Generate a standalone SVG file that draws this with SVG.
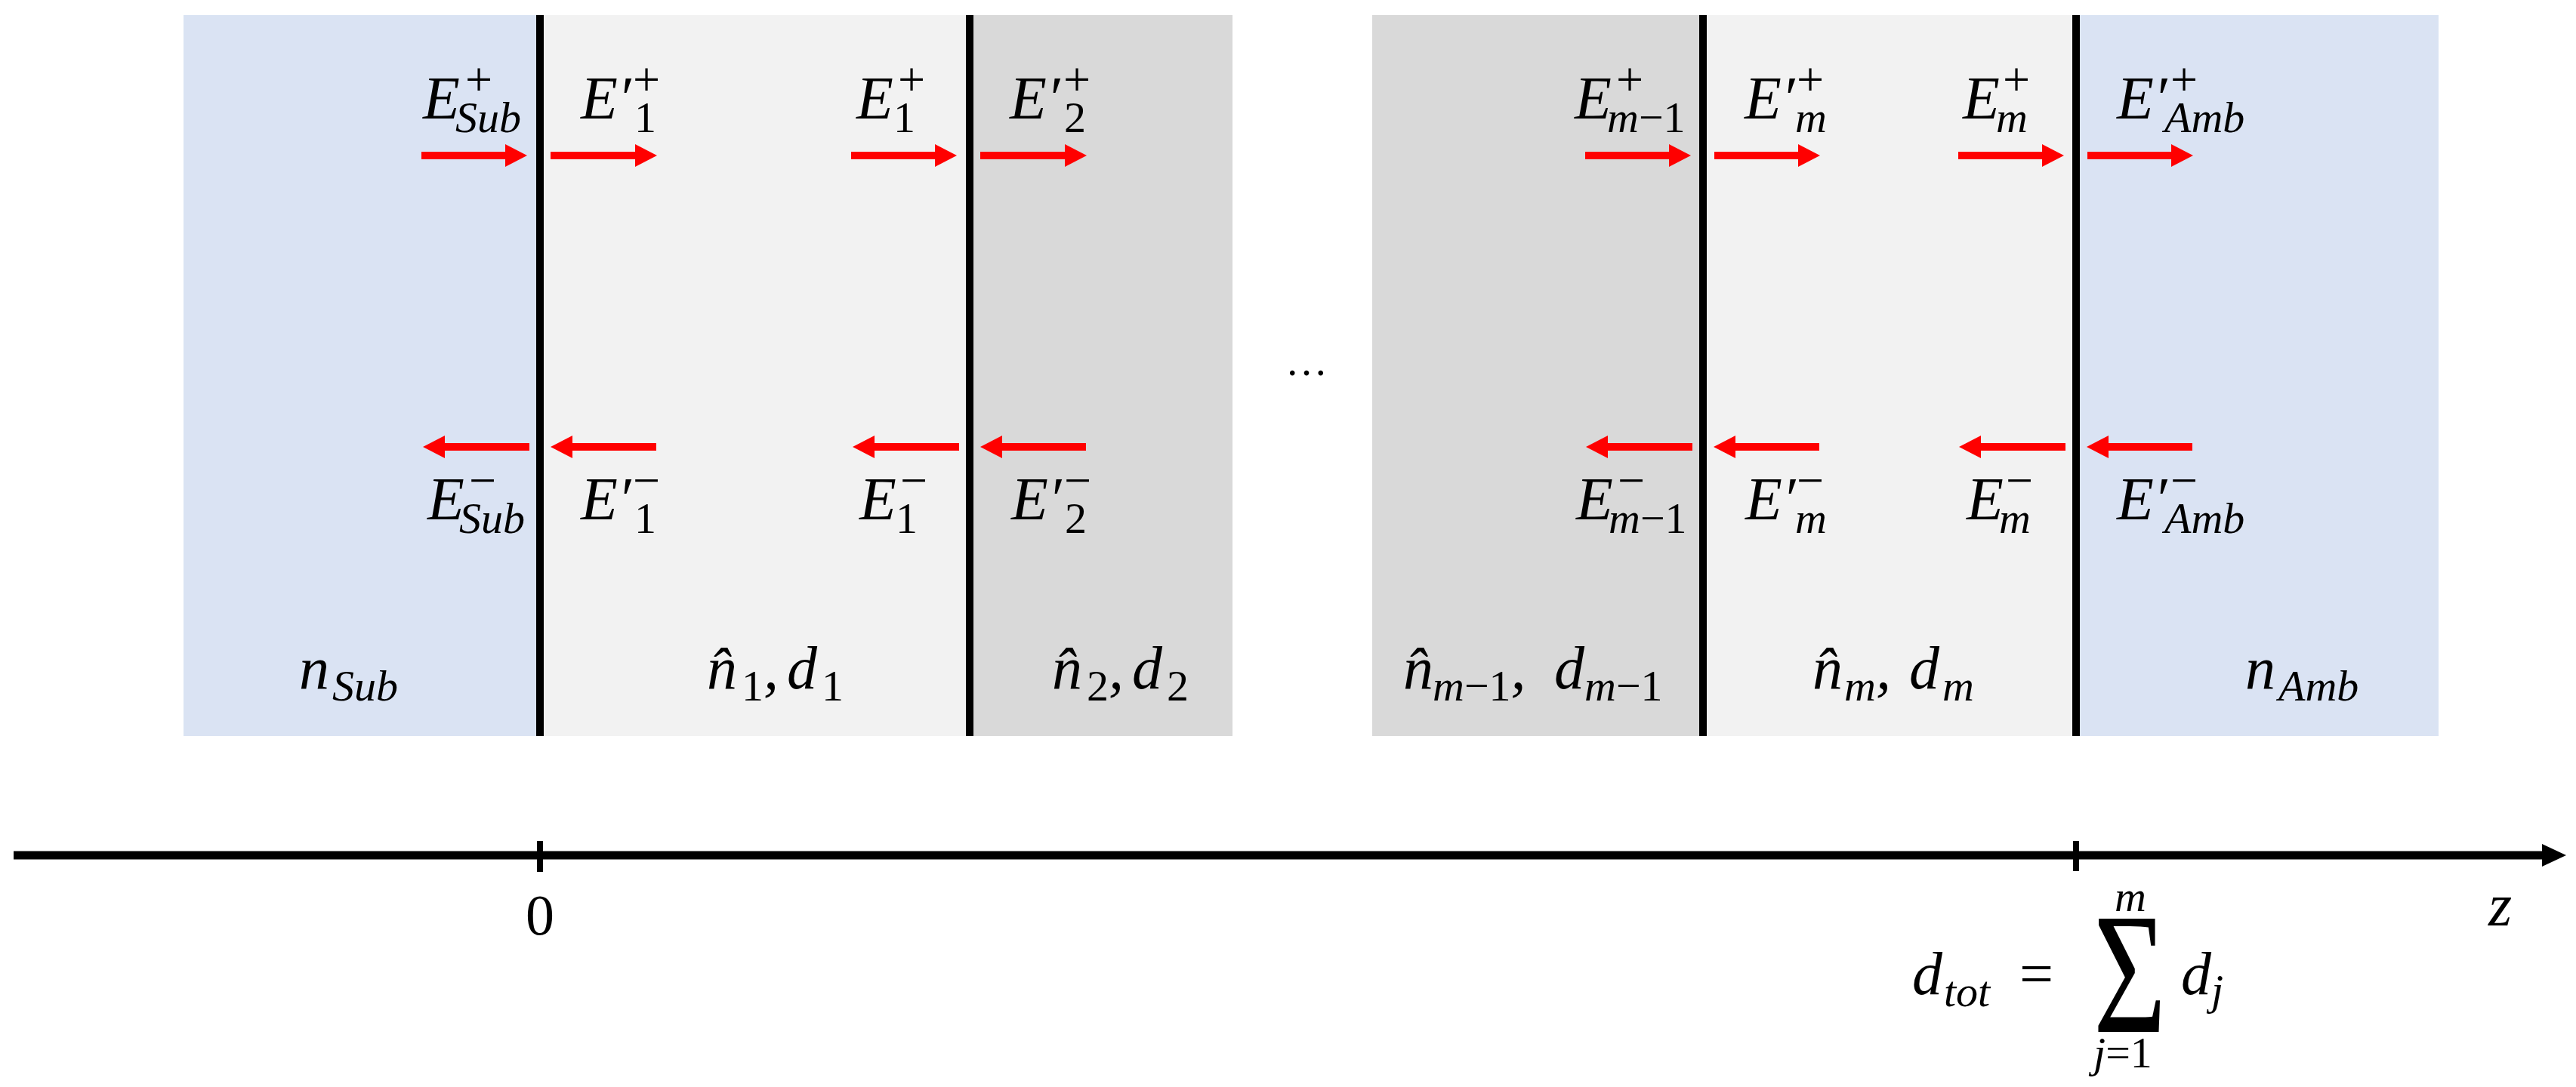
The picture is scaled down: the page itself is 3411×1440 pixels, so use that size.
<svg xmlns="http://www.w3.org/2000/svg" width="3411" height="1440" viewBox="0 0 3411 1440">
<defs>
<marker id="ah" markerUnits="userSpaceOnUse" markerWidth="30" markerHeight="30" refX="19" refY="15" orient="auto">
<path d="M0,0 L29,15 L0,30 z" fill="#FF0000"/>
</marker>
</defs>
<style>
text{font-family:"Liberation Serif","Times New Roman",serif;fill:#000}
.m{font-size:80px;font-style:italic}
.sb{font-size:58px;font-style:italic}
.sp{font-size:64px;font-style:normal}
.up{font-style:normal}
.arr{stroke:#FF0000;stroke-width:10;fill:none;marker-end:url(#ah)}
.iface{stroke:#000;stroke-width:10}
.blue{fill:#DAE3F3}
.lg{fill:#F2F2F2}
.dg{fill:#D9D9D9}
</style>
<rect width="3411" height="1440" fill="#FFFFFF"/>

<g id="substrate">
<rect class="blue" x="243" y="20" width="472" height="955"/>
<text class="m" x="396" y="912">n<tspan class="sb" x="440" y="928">Sub</tspan></text>
</g>
<g id="layer1">
<rect class="lg" x="715" y="20" width="569" height="955"/>
<text class="m" x="936" y="912">n&#x302;<tspan class="sb up" x="982" y="928">1</tspan><tspan y="912">,</tspan><tspan x="1042" y="912">d</tspan><tspan class="sb up" x="1088" y="928">1</tspan></text>
</g>
<g id="layer2">
<rect class="dg" x="1284" y="20" width="348" height="955"/>
<text class="m" x="1393" y="912">n&#x302;<tspan class="sb up" x="1439" y="928">2</tspan><tspan y="912">,</tspan><tspan x="1499" y="912">d</tspan><tspan class="sb up" x="1545" y="928">2</tspan></text>
</g>
<g id="ellipsis">
<text class="up" x="1702" y="497" font-size="56">…</text>
</g>
<g id="layer-m-1">
<rect class="dg" x="1817" y="20" width="438" height="955"/>
<text class="m" x="1858" y="912">n&#x302;<tspan class="sb" x="1897" y="928">m</tspan><tspan class="sb up">−1</tspan><tspan y="912">,</tspan><tspan x="2058" y="912">d</tspan><tspan class="sb" x="2098" y="928">m</tspan><tspan class="sb up">−1</tspan></text>
</g>
<g id="layer-m">
<rect class="lg" x="2255" y="20" width="494" height="955"/>
<text class="m" x="2400" y="912">n&#x302;<tspan class="sb" x="2442" y="928">m</tspan><tspan y="912">,</tspan><tspan x="2528" y="912">d</tspan><tspan class="sb" x="2572" y="928">m</tspan></text>
</g>
<g id="ambient">
<rect class="blue" x="2749" y="20" width="480" height="955"/>
<text class="m" x="2973" y="912">n<tspan class="sb" x="3017" y="928">Amb</tspan></text>
</g>

<g id="interfaces">
<line class="iface" x1="715" y1="20" x2="715" y2="975"/>
<line class="iface" x1="1284" y1="20" x2="1284" y2="975"/>
<line class="iface" x1="2255" y1="20" x2="2255" y2="975"/>
<line class="iface" x1="2749" y1="20" x2="2749" y2="975"/>
</g>

<g id="field-labels">
<text class="m" x="560" y="157">E<tspan class="sp" x="616" y="127">+</tspan><tspan class="sb" x="603" y="175">Sub</tspan></text>
<text class="m" x="769" y="157">E′<tspan class="sp" x="838" y="127">+</tspan><tspan class="sb up" x="840" y="175">1</tspan></text>
<text class="m" x="1134" y="157">E<tspan class="sp" x="1189" y="127">+</tspan><tspan class="sb up" x="1183" y="175">1</tspan></text>
<text class="m" x="1337" y="157">E′<tspan class="sp" x="1408" y="127">+</tspan><tspan class="sb up" x="1409" y="175">2</tspan></text>
<text class="m" x="2085" y="157">E<tspan class="sp" x="2140" y="127">+</tspan><tspan class="sb" x="2128" y="175">m</tspan><tspan class="sb up">−1</tspan></text>
<text class="m" x="2310" y="157">E′<tspan class="sp" x="2379" y="127">+</tspan><tspan class="sb" x="2377" y="175">m</tspan></text>
<text class="m" x="2599" y="157">E<tspan class="sp" x="2652" y="127">+</tspan><tspan class="sb" x="2643" y="175">m</tspan></text>
<text class="m" x="2803" y="157">E′<tspan class="sp" x="2874" y="127">+</tspan><tspan class="sb" x="2866" y="175">Amb</tspan></text>

<text class="m" x="566" y="688">E<tspan class="sp" x="621" y="658">−</tspan><tspan class="sb" x="608" y="706">Sub</tspan></text>
<text class="m" x="769" y="688">E′<tspan class="sp" x="838" y="658">−</tspan><tspan class="sb up" x="840" y="706">1</tspan></text>
<text class="m" x="1138" y="688">E<tspan class="sp" x="1192" y="658">−</tspan><tspan class="sb up" x="1186" y="706">1</tspan></text>
<text class="m" x="1339" y="688">E′<tspan class="sp" x="1409" y="658">−</tspan><tspan class="sb up" x="1410" y="706">2</tspan></text>
<text class="m" x="2087" y="688">E<tspan class="sp" x="2142" y="658">−</tspan><tspan class="sb" x="2130" y="706">m</tspan><tspan class="sb up">−1</tspan></text>
<text class="m" x="2311" y="688">E′<tspan class="sp" x="2379" y="658">−</tspan><tspan class="sb" x="2377" y="706">m</tspan></text>
<text class="m" x="2604" y="688">E<tspan class="sp" x="2656" y="658">−</tspan><tspan class="sb" x="2647" y="706">m</tspan></text>
<text class="m" x="2803" y="688">E′<tspan class="sp" x="2874" y="658">−</tspan><tspan class="sb" x="2866" y="706">Amb</tspan></text>
</g>

<g id="connectors">
<line class="arr" x1="558" y1="206" x2="688" y2="206"/>
<line class="arr" x1="729" y1="206" x2="860" y2="206"/>
<line class="arr" x1="1127" y1="206" x2="1257" y2="206"/>
<line class="arr" x1="1298" y1="206" x2="1429" y2="206"/>
<line class="arr" x1="2099" y1="206" x2="2229" y2="206"/>
<line class="arr" x1="2270" y1="206" x2="2400" y2="206"/>
<line class="arr" x1="2593" y1="206" x2="2723" y2="206"/>
<line class="arr" x1="2764" y1="206" x2="2894" y2="206"/>

<line class="arr" x1="701" y1="592" x2="570" y2="592"/>
<line class="arr" x1="869" y1="592" x2="739" y2="592"/>
<line class="arr" x1="1270" y1="592" x2="1139" y2="592"/>
<line class="arr" x1="1438" y1="592" x2="1308" y2="592"/>
<line class="arr" x1="2241" y1="592" x2="2110" y2="592"/>
<line class="arr" x1="2409" y1="592" x2="2279" y2="592"/>
<line class="arr" x1="2735" y1="592" x2="2604" y2="592"/>
<line class="arr" x1="2903" y1="592" x2="2773" y2="592"/>
</g>

<g id="z-axis">
<line x1="18" y1="1133" x2="3370" y2="1133" stroke="#000" stroke-width="11"/>
<path d="M3366,1118 L3398,1133 L3366,1148 z" fill="#000"/>
<line x1="715" y1="1114" x2="715" y2="1155" stroke="#000" stroke-width="8"/>
<line x1="2749" y1="1114" x2="2749" y2="1154" stroke="#000" stroke-width="8"/>
<text class="up" x="715" y="1238" font-size="76" text-anchor="middle">0</text>
<text class="m" x="3295" y="1226">z</text>
</g>

<g id="d-total">
<text class="m" x="2532" y="1317">d<tspan class="sb" x="2574" y="1333">tot</tspan></text>
<text class="m up" x="2674" y="1317">=</text>
<text class="up" transform="translate(2772,1367) scale(0.72,1)" x="0" y="0" font-size="230">Σ</text>
<text class="sb" x="2800" y="1207" font-size="62">m</text>
<text class="m" x="2888" y="1317">d<tspan class="sb" x="2928" y="1331">j</tspan></text>
<text class="sb" x="2772" y="1414">j<tspan class="up">=1</tspan></text>
</g>
</svg>
